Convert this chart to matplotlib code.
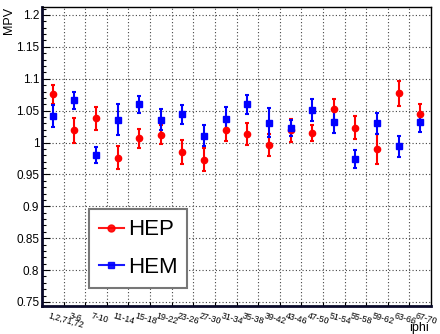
import numpy as np
import matplotlib.pyplot as plt
import matplotlib.transforms as mtransforms
from matplotlib.lines import Line2D
from matplotlib.ticker import MultipleLocator

plt.rcParams['font.family'] = ['Liberation Sans', 'DejaVu Sans']

# iphi bins
bins = ['1,2,71,72', '3-6', '7-10', '11-14', '15-18', '19-22', '23-26', '27-30',
        '31-34', '35-38', '39-42', '43-46', '47-50', '51-54', '55-58', '59-62',
        '63-66', '67-70']

hep = [1.076, 1.019, 1.038, 0.976, 1.007, 1.012, 0.985, 0.973, 1.019,
       1.013, 0.996, 1.019, 1.015, 1.052, 1.023, 0.990, 1.077, 1.045]
hep_err = [0.015, 0.019, 0.018, 0.018, 0.015, 0.015, 0.019, 0.018, 0.016,
           0.017, 0.017, 0.018, 0.013, 0.016, 0.018, 0.023, 0.020, 0.015]

hem = [1.042, 1.066, 0.980, 1.036, 1.060, 1.036, 1.044, 1.011, 1.037,
       1.060, 1.031, 1.023, 1.051, 1.032, 0.974, 1.030, 0.994, 1.032]
hem_err = [0.017, 0.014, 0.0125, 0.024, 0.013, 0.016, 0.015, 0.016, 0.018,
           0.015, 0.023, 0.013, 0.017, 0.017, 0.014, 0.016, 0.016, 0.015]

fig = plt.figure(figsize=(4.4, 3.34), dpi=100)
ax = fig.add_axes([0.0955, 0.0838, 0.884, 0.8952])

x = np.arange(len(bins))

ax.errorbar(x, hep, yerr=hep_err, fmt='o', color='red', ms=4.5, elinewidth=1.5,
            capsize=1.5, capthick=1.5, zorder=3)
ax.errorbar(x, hem, yerr=hem_err, fmt='s', color='blue', ms=4.2, elinewidth=1.5,
            capsize=1.5, capthick=1.5, zorder=3)

ax.set_xlim(-0.5, len(bins) - 0.5)
ax.set_ylim(0.7437, 1.2125)

# y axis ticks
ax.yaxis.set_minor_locator(MultipleLocator(0.01))
ax.set_yticks(np.arange(0.75, 1.2001, 0.05))
ax.set_yticklabels(['0.75', '0.8', '0.85', '0.9', '0.95', '1', '1.05', '1.1', '1.15', '1.2'])
ax.tick_params(axis='y', which='major', direction='in', length=6, width=0.8,
               labelsize=8.5, pad=2)
ax.tick_params(axis='y', which='minor', direction='in', length=3, width=0.8)

# x axis: grid at bin edges, labels at bin centres
ax.set_xticks(x[:-1] + 0.5)
ax.set_xticklabels([])
ax.set_xticks(x, bins, minor=True)
ax.tick_params(axis='x', which='major', direction='in', length=3, width=0.8)
ax.tick_params(axis='x', which='minor', length=0, labelsize=6.3, pad=4)
shift = mtransforms.ScaledTranslation(-0.035, 0, fig.dpi_scale_trans)
for lbl in ax.get_xticklabels(minor=True):
    lbl.set_rotation(-16)
    lbl.set_ha('left')
    lbl.set_va('top')
    lbl.set_rotation_mode('anchor')
    lbl.set_transform(lbl.get_transform() + shift)

ax.grid(True, which='major', color='#444444', linestyle=(0, (1, 2)), linewidth=0.8)
ax.set_axisbelow(True)

for side in ['left', 'bottom']:
    ax.spines[side].set_linewidth(2)
    ax.spines[side].set_color('#0a0a2a')
for side in ['top', 'right']:
    ax.spines[side].set_linewidth(1)

ax.set_ylabel('MPV', fontsize=9, loc='top', labelpad=1)
ax.set_xlabel('iphi', fontsize=9, loc='right')
ax.xaxis.set_label_coords(0.995, -0.055)

handles = [Line2D([], [], color='red', marker='o', ms=5, lw=1.5, alpha=0.9),
           Line2D([], [], color='blue', marker='s', ms=5, lw=1.5, alpha=0.9)]
leg = ax.legend(handles, ['HEP', 'HEM'], loc='lower left',
                bbox_to_anchor=(0.121, 0.060, 0.252, 0.271),
                mode='expand', fontsize=16, handlelength=1.1, handletextpad=0.2,
                labelspacing=0.75, borderpad=0.45, borderaxespad=0,
                fancybox=False, framealpha=1, edgecolor='#777777')
leg.get_frame().set_linewidth(1.5)

plt.savefig('out.png', dpi=100)
